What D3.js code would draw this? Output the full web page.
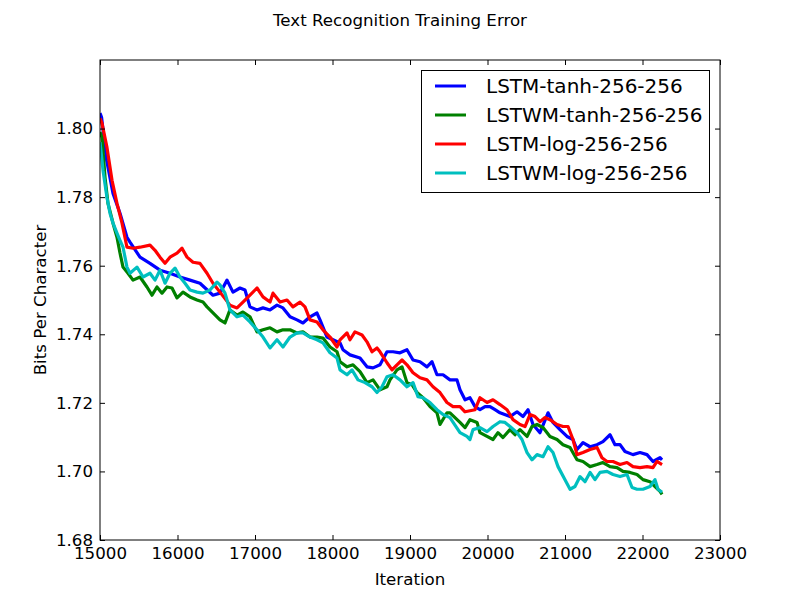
<!DOCTYPE html>
<html><head><meta charset="utf-8">
<script src="https://cdn.jsdelivr.net/npm/d3@7"></script>
<style>body{margin:0;background:#fff}svg{display:block}text{font-family:"DejaVu Sans",sans-serif;fill:#000}</style>
</head><body>
<script>
const title = "Text Recognition Training Error";
const xLabel = "Iteration";
const yLabel = "Bits Per Character";
const xTicks = [15000,16000,17000,18000,19000,20000,21000,22000,23000];
const yTicks = [1.68,1.70,1.72,1.74,1.76,1.78,1.80];
const seriesNames = ["LSTM-tanh-256-256","LSTWM-tanh-256-256","LSTM-log-256-256","LSTWM-log-256-256"];
const seriesColors = ["#0000ff","#008000","#ff0000","#00bfbf"];

const lstmTanhIter = [15000,15020,15086,15168,15258,15348,15387,15516,15645,15774,15903,16032,16161,16290,16458,16548,16639,16716,16806,16871,16935,17026,17103,17194,17284,17361,17452,17542,17619,17710,17800,17839,17929,18006,18097,18135,18226,18355,18445,18523,18613,18703,18781,18871,18961,19039,19129,19219,19284,19348,19426,19516,19606,19645,19710,19774,19839,19903,19968,20032,20097,20161,20290,20381,20458,20523,20587,20677,20781,20845,20935,21026,21103,21155,21232,21323,21413,21490,21581,21645,21710,21774,21877,21968,22058,22135,22226,22252];
const lstmTanhBpc = [1.8045,1.8033,1.7907,1.7811,1.7753,1.7683,1.7669,1.7625,1.7607,1.7587,1.7578,1.7567,1.7558,1.7549,1.7514,1.7520,1.7558,1.7523,1.7535,1.7529,1.7480,1.7471,1.7477,1.7471,1.7485,1.7477,1.7451,1.7442,1.7433,1.7451,1.7462,1.7442,1.7392,1.7384,1.7375,1.7355,1.7340,1.7331,1.7305,1.7302,1.7311,1.7349,1.7349,1.7346,1.7355,1.7325,1.7320,1.7305,1.7320,1.7282,1.7282,1.7267,1.7267,1.7238,1.7209,1.7215,1.7189,1.7180,1.7189,1.7189,1.7180,1.7171,1.7160,1.7174,1.7160,1.7180,1.7137,1.7113,1.7171,1.7143,1.7122,1.7102,1.7093,1.7064,1.7084,1.7072,1.7078,1.7087,1.7107,1.7078,1.7078,1.7058,1.7049,1.7055,1.7049,1.7029,1.7040,1.7034];

const lstwmTanhIter = [15000,15026,15065,15103,15168,15219,15258,15297,15361,15426,15516,15606,15671,15735,15800,15865,15929,15994,16071,16161,16252,16329,16381,16548,16613,16677,16768,16845,16935,17026,17103,17194,17284,17361,17452,17542,17619,17710,17800,17877,17968,18058,18097,18187,18265,18355,18445,18523,18613,18703,18742,18832,18897,18961,19026,19090,19168,19258,19348,19387,19477,19516,19645,19710,19774,19865,19903,19994,20071,20135,20200,20290,20355,20419,20510,20574,20639,20716,20806,20897,20974,21065,21155,21232,21323,21413,21490,21581,21671,21748,21839,21929,22006,22097,22161,22226,22252];
const lstwmTanhBpc = [1.7990,1.7974,1.7857,1.7782,1.7724,1.7683,1.7637,1.7596,1.7578,1.7558,1.7567,1.7538,1.7514,1.7538,1.7520,1.7538,1.7535,1.7506,1.7523,1.7509,1.7500,1.7494,1.7480,1.7442,1.7433,1.7471,1.7456,1.7465,1.7451,1.7407,1.7413,1.7419,1.7407,1.7413,1.7413,1.7404,1.7407,1.7392,1.7392,1.7389,1.7363,1.7349,1.7320,1.7305,1.7311,1.7291,1.7259,1.7267,1.7238,1.7247,1.7267,1.7296,1.7305,1.7259,1.7253,1.7230,1.7215,1.7189,1.7171,1.7137,1.7171,1.7171,1.7143,1.7128,1.7151,1.7143,1.7113,1.7102,1.7093,1.7113,1.7099,1.7122,1.7107,1.7122,1.7102,1.7131,1.7137,1.7128,1.7102,1.7093,1.7078,1.7070,1.7034,1.7029,1.7014,1.7020,1.7026,1.7014,1.7011,1.7000,1.6997,1.6991,1.6976,1.6970,1.6956,1.6942,1.6933];

const lstmLogIter = [15000,15026,15090,15155,15219,15284,15348,15426,15516,15645,15710,15774,15839,15903,15994,16058,16123,16200,16290,16381,16458,16548,16677,16768,16845,16935,17026,17103,17194,17232,17323,17413,17490,17581,17645,17710,17800,17877,17968,18058,18097,18187,18226,18290,18381,18445,18510,18574,18613,18703,18768,18832,18897,18961,19039,19129,19219,19297,19387,19477,19555,19645,19710,19839,19903,19994,20071,20161,20252,20329,20419,20484,20548,20613,20677,20742,20806,20897,20974,21039,21103,21155,21232,21323,21413,21477,21542,21619,21710,21800,21877,21968,22058,22135,22187,22252];
const lstmLogBpc = [1.8030,1.8015,1.7945,1.7849,1.7782,1.7724,1.7654,1.7651,1.7654,1.7660,1.7645,1.7625,1.7607,1.7625,1.7637,1.7651,1.7625,1.7610,1.7607,1.7578,1.7549,1.7523,1.7485,1.7477,1.7494,1.7514,1.7535,1.7509,1.7494,1.7520,1.7494,1.7500,1.7480,1.7494,1.7480,1.7442,1.7436,1.7413,1.7392,1.7363,1.7384,1.7404,1.7384,1.7407,1.7398,1.7378,1.7349,1.7360,1.7349,1.7317,1.7296,1.7311,1.7325,1.7311,1.7288,1.7273,1.7267,1.7247,1.7230,1.7201,1.7189,1.7189,1.7174,1.7180,1.7215,1.7201,1.7209,1.7195,1.7180,1.7151,1.7137,1.7131,1.7166,1.7160,1.7145,1.7157,1.7151,1.7137,1.7131,1.7131,1.7093,1.7049,1.7055,1.7064,1.7070,1.7040,1.7029,1.7029,1.7020,1.7026,1.7014,1.7011,1.7014,1.7011,1.7029,1.7020];

const lstwmLogIter = [15000,15026,15039,15090,15129,15168,15219,15258,15297,15348,15387,15477,15555,15645,15710,15774,15839,15903,15968,16032,16097,16161,16252,16329,16419,16510,16548,16613,16677,16768,16845,16935,17026,17103,17194,17284,17361,17452,17542,17619,17710,17800,17877,17968,18058,18097,18187,18252,18329,18419,18510,18574,18639,18703,18781,18871,18961,19039,19103,19168,19258,19348,19426,19516,19645,19735,19774,19813,19903,19994,20071,20161,20226,20290,20381,20445,20510,20574,20639,20716,20781,20845,20910,21000,21065,21129,21194,21258,21323,21387,21452,21542,21619,21710,21800,21865,21929,22006,22097,22161,22200,22252];
const lstwmLogBpc = [1.7960,1.7907,1.7878,1.7799,1.7753,1.7724,1.7695,1.7674,1.7654,1.7596,1.7578,1.7596,1.7567,1.7578,1.7558,1.7587,1.7549,1.7578,1.7593,1.7567,1.7549,1.7529,1.7523,1.7520,1.7529,1.7552,1.7544,1.7520,1.7471,1.7451,1.7456,1.7436,1.7413,1.7392,1.7360,1.7384,1.7363,1.7392,1.7404,1.7404,1.7392,1.7384,1.7375,1.7346,1.7331,1.7296,1.7282,1.7296,1.7267,1.7259,1.7247,1.7230,1.7247,1.7276,1.7282,1.7267,1.7247,1.7259,1.7218,1.7215,1.7201,1.7180,1.7166,1.7157,1.7113,1.7102,1.7093,1.7122,1.7128,1.7116,1.7131,1.7145,1.7143,1.7131,1.7113,1.7093,1.7055,1.7034,1.7049,1.7043,1.7072,1.7055,1.7014,1.6976,1.6948,1.6956,1.6985,1.6970,1.6997,1.6976,1.6997,1.7000,1.6991,1.6985,1.6991,1.6953,1.6948,1.6948,1.6956,1.6976,1.6948,1.6939];

const seriesIters = [lstmTanhIter, lstwmTanhIter, lstmLogIter, lstwmLogIter];
const seriesVals = [lstmTanhBpc, lstwmTanhBpc, lstmLogBpc, lstwmLogBpc];

const W = 800, H = 600;
const m = {l:100, r:80, t:60, b:60};
const svg = d3.select("body").append("svg").attr("width", W).attr("height", H);
const x = d3.scaleLinear().domain([15000,23000]).range([m.l, W - m.r]);
const y = d3.scaleLinear().domain([1.68,1.82]).range([H - m.b, m.t]);

const clip = svg.append("clipPath").attr("id","c").append("rect")
  .attr("x", m.l).attr("y", m.t).attr("width", W-m.l-m.r).attr("height", H-m.t-m.b);
const line = d3.line().x(d => x(d[0])).y(d => y(d[1]));
const g = svg.append("g").attr("clip-path","url(#c)");
seriesNames.forEach((n,i) => {
  const pts = seriesIters[i].map((v,j) => [v, seriesVals[i][j]]);
  g.append("path").datum(pts).attr("d", line).attr("fill","none")
    .attr("stroke", seriesColors[i]).attr("stroke-width", 3.2).attr("stroke-linejoin","round");
});

const fs = 16.67;
const xb = svg.append("g").attr("transform",`translate(0,${H-m.b})`)
  .call(d3.axisBottom(x).tickValues(xTicks).tickFormat(d3.format("d")).tickSizeInner(-5).tickSizeOuter(0).tickPadding(7));
const xt = svg.append("g").attr("transform",`translate(0,${m.t})`)
  .call(d3.axisTop(x).tickValues(xTicks).tickFormat("").tickSizeInner(-5).tickSizeOuter(0));
const yl = svg.append("g").attr("transform",`translate(${m.l},0)`)
  .call(d3.axisLeft(y).tickValues(yTicks).tickFormat(d3.format(".2f")).tickSizeInner(-5).tickSizeOuter(0).tickPadding(7));
const yr = svg.append("g").attr("transform",`translate(${W-m.r},0)`)
  .call(d3.axisRight(y).tickValues(yTicks).tickFormat("").tickSizeInner(-5).tickSizeOuter(0));
[xb,xt,yl,yr].forEach(a => {
  a.select(".domain").remove();
  a.selectAll("line").attr("stroke","#000");
  a.selectAll("text").style("font-size", fs+"px").style("font-family","DejaVu Sans").attr("fill","#000");
});
svg.append("rect").attr("x",m.l).attr("y",m.t).attr("width",W-m.l-m.r).attr("height",H-m.t-m.b)
  .attr("fill","none").attr("stroke","#000").attr("stroke-width",1);

svg.append("text").attr("x", 410).attr("y", 585).attr("text-anchor","middle").style("font-size", fs+"px").text(xLabel);
svg.append("text").attr("transform","translate(46,300) rotate(-90)").attr("text-anchor","middle").style("font-size", fs+"px").text(yLabel);
svg.append("text").attr("x", 400).attr("y", 26).attr("text-anchor","middle").style("font-size", fs+"px").text(title);

const lg = svg.append("g");
lg.append("rect").attr("x",421.5).attr("y",70.5).attr("width",288).attr("height",122).attr("fill","#fff").attr("stroke","#000");
seriesNames.forEach((n,i) => {
  const yy = 86 + i*29;
  lg.append("line").attr("x1",435).attr("x2",466).attr("y1",yy).attr("y2",yy).attr("stroke",seriesColors[i]).attr("stroke-width",3);
  lg.append("text").attr("x",486).attr("y",yy).attr("dy","0.36em").style("font-size","20px").text(n);
});
</script>
</body></html>
